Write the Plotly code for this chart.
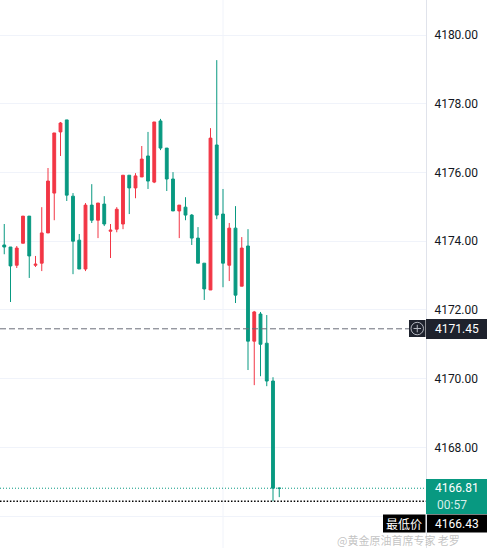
import plotly.graph_objects as go

# ---------------- data ----------------
bar_index = list(range(46))
opens = [4174.38, 4173.89, 4173.83, 4173.30, 4173.94, 4174.73, 4173.30, 4173.36, 4174.24, 4175.40,
         4177.18, 4177.53, 4175.31, 4174.03, 4173.19, 4175.05, 4174.61, 4175.08, 4174.29, 4174.35,
         4174.50, 4175.92, 4175.55, 4175.87, 4176.48, 4175.72, 4177.50, 4176.71, 4175.81, 4174.88,
         4174.99, 4174.76, 4174.09, 4173.36, 4172.58, 4176.80, 4174.79, 4173.30, 4174.38, 4172.69,
         4173.86, 4171.09, 4171.88, 4171.03, 4169.93, 4166.81]
highs = [4174.61, 4174.50, 4173.83, 4173.86, 4174.73, 4174.73, 4173.57, 4174.99, 4176.13, 4177.15,
         4177.47, 4177.53, 4175.40, 4174.21, 4175.11, 4175.66, 4175.11, 4175.31, 4174.50, 4174.99,
         4175.92, 4175.92, 4175.98, 4176.77, 4177.18, 4177.47, 4177.56, 4176.71, 4176.01, 4175.05,
         4175.28, 4174.79, 4174.41, 4173.36, 4177.29, 4179.27, 4175.52, 4174.53, 4175.02, 4174.12,
         4174.35, 4171.97, 4171.94, 4171.85, 4170.04, 4166.81]
lows = [4173.89, 4173.62, 4172.23, 4173.22, 4173.94, 4172.93, 4173.25, 4173.13, 4174.24, 4174.61,
        4176.48, 4175.17, 4173.04, 4173.19, 4173.13, 4174.53, 4174.09, 4174.44, 4173.51, 4174.26,
        4174.35, 4174.79, 4175.25, 4175.87, 4175.52, 4175.69, 4176.65, 4175.46, 4174.88, 4174.09,
        4174.61, 4173.89, 4173.36, 4172.29, 4172.58, 4174.64, 4172.66, 4172.84, 4172.20, 4172.69,
        4170.25, 4169.81, 4170.07, 4169.78, 4166.43, 4166.55]
closes = [4173.89, 4173.83, 4173.28, 4173.80, 4174.73, 4173.57, 4173.33, 4174.24, 4175.75, 4177.15,
          4177.44, 4175.34, 4174.00, 4173.19, 4175.05, 4174.61, 4175.11, 4174.50, 4174.32, 4174.93,
          4175.92, 4175.55, 4175.90, 4176.39, 4175.75, 4177.47, 4176.71, 4175.81, 4174.88, 4175.05,
          4174.76, 4174.09, 4173.36, 4172.61, 4177.00, 4174.76, 4173.36, 4174.38, 4172.43, 4173.80,
          4171.09, 4171.94, 4171.00, 4169.93, 4166.81, 4166.81]

y_tick_values = [4166, 4168, 4170, 4172, 4174, 4176, 4178, 4180]
y_tick_labels = ["", "4168.00", "4170.00", "4172.00", "4174.00", "4176.00", "4178.00", "4180.00"]

last_price = 4166.81
low_price = 4166.43
cross_price = 4171.45
countdown = "00:57"
low_label = "最低价"
watermark = "@黄金原油首席专家 老罗"
grid_bar = 36

# ---------------- layout helpers ----------------
W, H = 487, 548
R = 61
PW = W - R


def px(x):
    return x / PW


def py(y):
    return 1 - y / H


UP = "#f23645"
DOWN = "#089981"
GRID = "#f0f3fa"
TEXT = "#131722"

fig = go.Figure(go.Candlestick(
    x=bar_index, open=opens, high=highs, low=lows, close=closes,
    increasing=dict(line=dict(color=UP, width=1), fillcolor=UP),
    decreasing=dict(line=dict(color=DOWN, width=1), fillcolor=DOWN),
    whiskerwidth=0, hoverinfo="skip", showlegend=False,
))

shapes = []
# vertical grid line
shapes.append(dict(type="line", xref="x", yref="paper", x0=grid_bar, x1=grid_bar, y0=0, y1=1,
                   line=dict(color=GRID, width=1), layer="below"))
# crosshair dashed line
shapes.append(dict(type="line", xref="paper", yref="y", x0=0, x1=px(409), y0=cross_price, y1=cross_price,
                   line=dict(color="#6a6d78", width=1, dash="6px,3px"), layer="above"))
# last price dotted line
shapes.append(dict(type="line", xref="paper", yref="y", x0=0, x1=1, y0=last_price, y1=last_price,
                   line=dict(color=DOWN, width=1, dash="1px,2px"), layer="above"))
# lowest price dotted line
shapes.append(dict(type="line", xref="paper", yref="y", x0=0, x1=1, y0=low_price, y1=low_price,
                   line=dict(color="#000000", width=1.5, dash="1.5px,1.8px"), layer="above"))
# crosshair price box
shapes.append(dict(type="rect", xref="paper", yref="paper", x0=1.0, x1=px(W), y0=py(339), y1=py(319),
                   fillcolor="#1e222d", line=dict(width=0), layer="above"))
# crosshair plus icon
shapes.append(dict(type="rect", xref="paper", yref="paper", x0=px(409), x1=px(425.5), y0=py(337), y1=py(320),
                   fillcolor="#1e222d", line=dict(width=0), layer="above"))
shapes.append(dict(type="circle", xref="paper", yref="paper", x0=px(411), x1=px(423.5), y0=py(334.8), y1=py(322.3),
                   line=dict(color="#b2b5be", width=1), layer="above"))
shapes.append(dict(type="line", xref="paper", yref="paper", x0=px(413.5), x1=px(421), y0=py(328.5), y1=py(328.5),
                   line=dict(color="#b2b5be", width=1), layer="above"))
shapes.append(dict(type="line", xref="paper", yref="paper", x0=px(417.25), x1=px(417.25), y0=py(332.3), y1=py(324.8),
                   line=dict(color="#b2b5be", width=1), layer="above"))
# last price box
shapes.append(dict(type="rect", xref="paper", yref="paper", x0=1.0, x1=px(W), y0=py(514), y1=py(479),
                   fillcolor=DOWN, line=dict(width=0), layer="above"))
# lowest price boxes
shapes.append(dict(type="rect", xref="paper", yref="paper", x0=px(427), x1=px(W), y0=py(532.5), y1=py(514.5),
                   fillcolor="#000000", line=dict(width=0), layer="above"))
shapes.append(dict(type="rect", xref="paper", yref="paper", x0=px(383), x1=px(425.5), y0=py(532.5), y1=py(514.5),
                   fillcolor="#000000", line=dict(width=0), layer="above"))

ann = []
lab_font = dict(family="Roboto", size=12, color="#ffffff")
ann.append(dict(xref="paper", yref="paper", x=px(433), y=py(329), xanchor="left", yanchor="middle",
                text=f"{cross_price:.2f}", showarrow=False, font=lab_font))
ann.append(dict(xref="paper", yref="paper", x=px(433), y=py(488), xanchor="left", yanchor="middle",
                text=f"{last_price:.2f}", showarrow=False, font=lab_font))
ann.append(dict(xref="paper", yref="paper", x=px(435), y=py(505), xanchor="left", yanchor="middle",
                text=countdown, showarrow=False, font=dict(family="Roboto", size=12, color="rgba(255,255,255,0.85)")))
ann.append(dict(xref="paper", yref="paper", x=px(433), y=py(523.5), xanchor="left", yanchor="middle",
                text=f"{low_price:.2f}", showarrow=False, font=lab_font))
ann.append(dict(xref="paper", yref="paper", x=px(404), y=py(523.5), xanchor="center", yanchor="middle",
                text=low_label, showarrow=False, font=dict(family="Noto Sans CJK SC", size=12, color="#ffffff")))
ann.append(dict(xref="paper", yref="paper", x=px(336), y=py(540), xanchor="left", yanchor="middle",
                text=watermark, showarrow=False, borderpad=0,
                font=dict(family="Noto Sans CJK SC", size=11, color="rgba(175,175,175,0.75)")))

fig.update_layout(
    width=W, height=H,
    margin=dict(l=0, r=R, t=0, b=0, pad=0),
    paper_bgcolor="white", plot_bgcolor="white",
    showlegend=False, boxgap=0.35,
    xaxis=dict(range=[0.32, 0.32 + PW / 6.25], visible=False, rangeslider=dict(visible=False),
               showgrid=False, zeroline=False),
    yaxis=dict(side="right", range=[4165.07, 4181.02], tickvals=y_tick_values, ticktext=y_tick_labels,
               showgrid=True, gridcolor=GRID, gridwidth=1, zeroline=False,
               showline=True, linecolor="#e0e3eb", linewidth=1, ticks="", ticklabelstandoff=5,
               tickfont=dict(family="Roboto", size=12, color=TEXT), fixedrange=True),
    shapes=shapes, annotations=ann,
)

fig.write_html("out.html")
